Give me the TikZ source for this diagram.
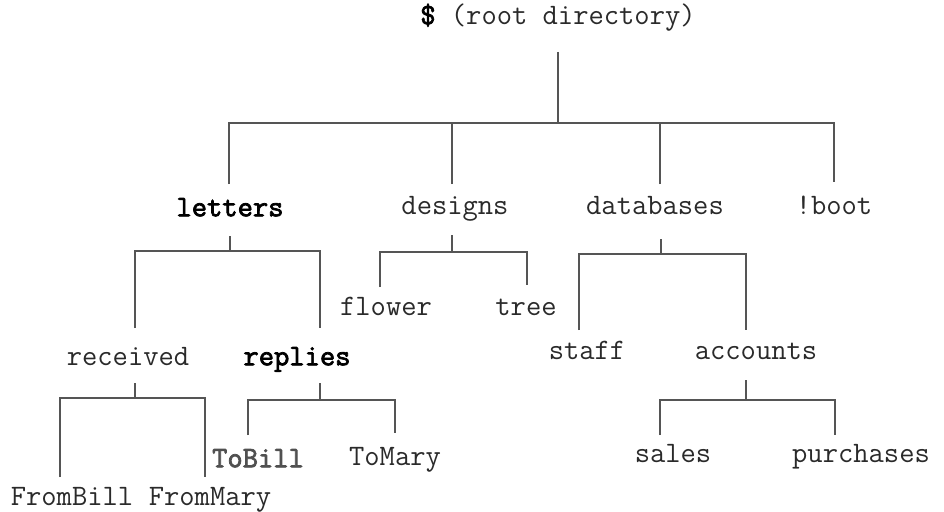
\documentclass[tikz,border=0pt]{standalone}
\usepackage{fontspec}
\newfontfamily\ttheavy[FakeBold=2.5]{Latin Modern Mono}
\definecolor{txt}{HTML}{2A2A2A}
\definecolor{ln}{HTML}{555555}
\definecolor{bgray}{HTML}{505050}
\begin{document}
\begin{tikzpicture}[x=1pt,y=-1pt,
  dir/.style={font=\ttfamily\fontsize{29.7}{32}\selectfont, text=txt, inner sep=0pt,
    text height=0.6em, text depth=0.15em, anchor=center},
  bolddir/.style={dir, font=\ttheavy\fontsize{29.7}{32}\selectfont, text=black},
  link/.style={draw=ln, line width=1.3pt}]
\useasboundingbox (0,0) rectangle (944,511);
% nodes
\node[dir] (root) at (558,22) {{\ttheavy\textcolor{black}{\$}} (root directory)};
\node[bolddir] (letters) at (230,214) {letters};
\node[dir] (designs) at (455,212) {designs};
\node[dir] (databases) at (655,212) {databases};
\node[dir] (boot) at (834,212) {!boot};
\node[dir] (received) at (128,363) {received};
\node[bolddir] (replies) at (297,363) {replies};
\node[dir] (flower) at (386,313) {flower};
\node[dir] (tree) at (526,313) {tree};
\node[dir] (staff) at (587,357) {staff};
\node[dir] (accounts) at (756,357) {accounts};
\node[bolddir, text=bgray] (tobill) at (258,465) {ToBill};
\node[dir] (tomary) at (395,463) {ToMary};
\node[dir] (frombill) at (72,503) {FromBill};
\node[dir] (frommary) at (210,503) {FromMary};
\node[dir] (sales) at (673,460) {sales};
\node[dir] (purchases) at (861,460) {purchases};
% junction coordinates
\coordinate (root-s) at (558,52);
\coordinate (root-b) at (558,123);
\coordinate (letters-n) at (229,184);
\coordinate (designs-n) at (452,184);
\coordinate (databases-n) at (660,184);
\coordinate (boot-n) at (834,182);
\coordinate (letters-s) at (230,236);
\coordinate (letters-b) at (230,251);
\coordinate (received-n) at (135,328);
\coordinate (replies-n) at (320,328);
\coordinate (designs-s) at (452,235);
\coordinate (designs-b) at (452,252);
\coordinate (flower-n) at (380,287);
\coordinate (tree-n) at (527,285);
\coordinate (databases-s) at (661,239);
\coordinate (databases-b) at (661,254);
\coordinate (staff-n) at (579,330);
\coordinate (accounts-n) at (746,330);
\coordinate (received-s) at (135,383);
\coordinate (received-b) at (135,398);
\coordinate (frombill-n) at (60,477);
\coordinate (frommary-n) at (205,477);
\coordinate (replies-s) at (320,383);
\coordinate (replies-b) at (320,400);
\coordinate (tobill-n) at (248,435);
\coordinate (tomary-n) at (395,433);
\coordinate (accounts-s) at (746,380);
\coordinate (accounts-b) at (746,400);
\coordinate (sales-n) at (660,435);
\coordinate (purchases-n) at (835,435);
% connectors
\draw[link] (root-s) -- (root-b);
\draw[link] (letters-n) |- (root-b) -| (boot-n);
\draw[link] (designs-n) -- (designs-n |- root-b);
\draw[link] (databases-n) -- (databases-n |- root-b);
\draw[link] (letters-s) -- (letters-b);
\draw[link] (received-n) |- (letters-b) -| (replies-n);
\draw[link] (designs-s) -- (designs-b);
\draw[link] (flower-n) |- (designs-b) -| (tree-n);
\draw[link] (databases-s) -- (databases-b);
\draw[link] (staff-n) |- (databases-b) -| (accounts-n);
\draw[link] (received-s) -- (received-b);
\draw[link] (frombill-n) |- (received-b) -| (frommary-n);
\draw[link] (replies-s) -- (replies-b);
\draw[link] (tobill-n) |- (replies-b) -| (tomary-n);
\draw[link] (accounts-s) -- (accounts-b);
\draw[link] (sales-n) |- (accounts-b) -| (purchases-n);
\end{tikzpicture}
\end{document}
